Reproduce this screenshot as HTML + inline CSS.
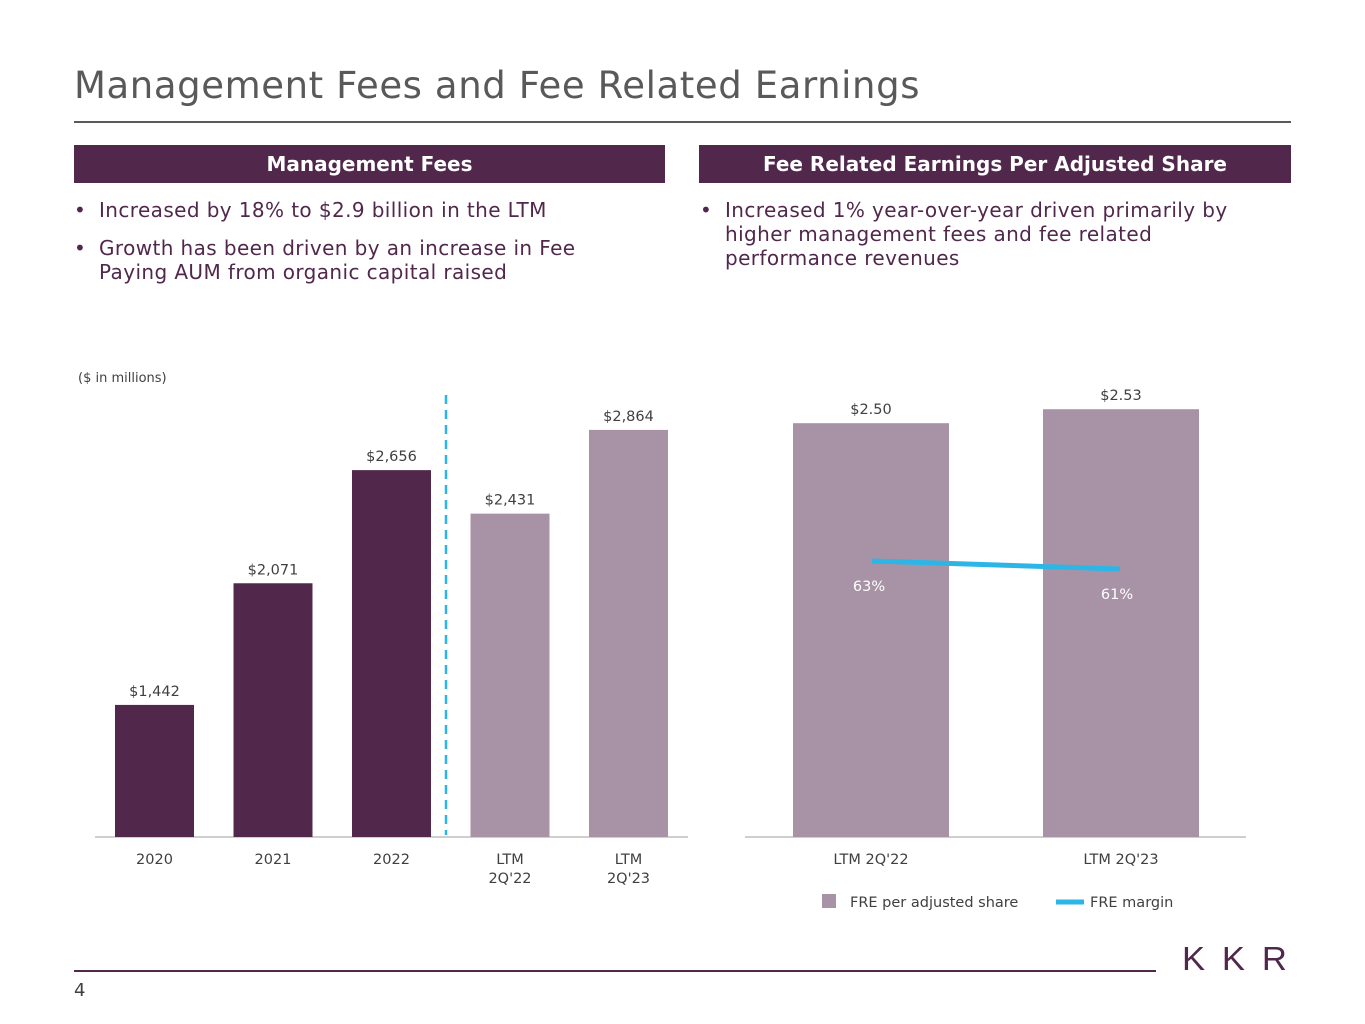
<!DOCTYPE html>
<html><head><meta charset="utf-8">
<style>
body{margin:0;width:1365px;height:1024px;background:#fff;font-family:"DejaVu Sans","Liberation Sans",sans-serif;position:relative;overflow:hidden}
.abs{position:absolute}
.hdr{position:absolute;top:145px;height:38px;background:#51284c;color:#fff;font-weight:bold;font-size:20px;line-height:38px;text-align:center}
.bul{position:absolute;font-size:20px;color:#51284c;line-height:24px;letter-spacing:0.4px}
.bul div{position:relative;padding-left:25px;margin-bottom:14px}
.bul div:before{content:"•";position:absolute;left:0;}
</style></head><body>
<div class="abs" style="left:74px;top:64px;font-size:37px;letter-spacing:0.6px;color:#595959">Management Fees and Fee Related Earnings</div>
<div class="abs" style="left:74px;top:121px;width:1217px;height:2px;background:#595959"></div>
<div class="hdr" style="left:74px;width:591px">Management Fees</div>
<div class="hdr" style="left:699px;width:592px">Fee Related Earnings Per Adjusted Share</div>
<div class="bul" style="left:74px;top:198px;width:530px">
<div>Increased by 18% to $2.9 billion in the LTM</div>
<div>Growth has been driven by an increase in Fee Paying AUM from organic capital raised</div></div>
<div class="bul" style="left:700px;top:198px;width:560px">
<div>Increased 1% year-over-year driven primarily by higher management fees and fee related performance revenues</div></div>
<svg class="abs" style="left:0;top:0" width="1365" height="1024">
<g id="left"></g>
<g id="right"></g>
</svg>
<div class="abs" style="left:78px;top:371px;font-size:13px;color:#404040">($ in millions)</div>
<div class="abs" style="left:74px;top:970px;width:1082px;height:2px;background:#51284c"></div>
<div class="abs" style="left:74px;top:980px;font-size:18px;color:#404040">4</div>
<div class="abs" style="left:1182px;top:940px;font-size:33px;letter-spacing:16px;color:#51284c;font-family:'Liberation Sans',sans-serif;transform:scaleX(1.05);transform-origin:left">KKR</div>
<script>
const mfCats=["2020","2021","2022","LTM\n2Q'22","LTM\n2Q'23"];
const mfVals=[1442,2071,2656,2431,2864];
const mfLabels=["$1,442","$2,071","$2,656","$2,431","$2,864"];
const freCats=["LTM 2Q'22","LTM 2Q'23"];
const freVals=[2.50,2.53];
const freLabels=["$2.50","$2.53"];
const marginVals=[63,61];
const marginLabels=["63%","61%"];
const NS="http://www.w3.org/2000/svg";
function mk(p,t,a,txt){const e=document.createElementNS(NS,t);for(const k in a)e.setAttribute(k,a[k]);if(txt!=null)e.textContent=txt;p.appendChild(e);return e;}
const base=837;
const L=document.getElementById('left');
const yL=v=>base-(v-759)*0.1934;
const xL=i=>115+i*118.5;
mk(L,'line',{x1:95,x2:688,y1:base,y2:base,stroke:'#bfbfbf','stroke-width':1.5});
mfVals.forEach((v,i)=>{
 const r=mk(L,'rect',{x:xL(i),y:yL(v),width:79,height:base-yL(v),fill:i<3?'#51284c':'#a893a6'});
 
 
 mk(L,'text',{x:xL(i)+39.5,y:yL(v)-9,'text-anchor':'middle','font-size':14.5,fill:'#404040'},mfLabels[i]);
 mfCats[i].split('\n').forEach((s,j)=>mk(L,'text',{x:xL(i)+39.5,y:864+j*19,'text-anchor':'middle','font-size':14.5,fill:'#404040'},s));
});
mk(L,'line',{x1:446,x2:446,y1:395,y2:835,stroke:'#2db5e6','stroke-width':2.5,'stroke-dasharray':'9,6'});
const R=document.getElementById('right');
const yR=v=>base-(v-1.612)*466;
const xR=i=>793+i*250;
const yM=v=>561+(63-v)*4;
mk(R,'line',{x1:745,x2:1246,y1:base,y2:base,stroke:'#bfbfbf','stroke-width':1.5});
freVals.forEach((v,i)=>{
 const r=mk(R,'rect',{x:xR(i),y:yR(v),width:156,height:base-yR(v),fill:'#a893a6'});
 
 
 mk(R,'text',{x:xR(i)+78,y:yR(v)-9,'text-anchor':'middle','font-size':14.5,fill:'#404040'},freLabels[i]);
 mk(R,'text',{x:xR(i)+78,y:864,'text-anchor':'middle','font-size':14.5,fill:'#404040'},freCats[i]);
});
const pts=marginVals.map((v,i)=>[xR(i)+79+i*-2,yM(v)]);
const ln=mk(R,'polyline',{points:pts.map(p=>p.join(',')).join(' '),fill:'none',stroke:'#2db5e6','stroke-width':5});


marginVals.forEach((v,i)=>mk(R,'text',{x:pts[i][0]-3,y:yM(v)+30,'text-anchor':'middle','font-size':14.5,fill:'#fff'},marginLabels[i]));
const lg=mk(R,'g',{});


mk(lg,'rect',{x:822,y:894,width:14,height:14,fill:'#a893a6'});
mk(lg,'text',{x:850,y:907,'font-size':14.5,fill:'#404040'},'FRE per adjusted share');
mk(lg,'line',{x1:1056,x2:1084,y1:902,y2:902,stroke:'#2db5e6','stroke-width':5});
mk(lg,'text',{x:1090,y:907,'font-size':14.5,fill:'#404040'},'FRE margin');
</script>
</body></html>
